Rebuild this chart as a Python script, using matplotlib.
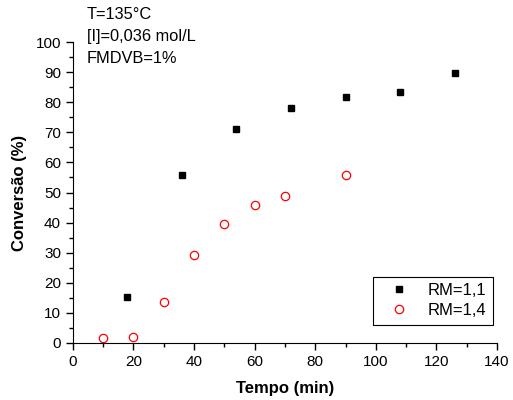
import matplotlib
matplotlib.use("Agg")
from matplotlib import pyplot as plt
from matplotlib.ticker import MultipleLocator

# Dados
t1 = [18, 36, 54, 72, 90, 108, 126]
conv1 = [15.2, 55.7, 71.2, 78.2, 81.6, 83.3, 89.6]
t2 = [10, 20, 30, 40, 50, 60, 70, 90]
conv2 = [1.6, 1.9, 13.6, 29.2, 39.5, 45.9, 48.7, 55.7]

plt.rcParams['font.family'] = ['Liberation Sans', 'DejaVu Sans']
plt.rcParams['font.size'] = 11

fig = plt.figure(figsize=(5.13, 4.0), dpi=100)
ax = fig.add_axes([0.142, 0.1425, 0.827, 0.7525])

ax.plot(t1, conv1, linestyle="none", marker="s", markersize=5, color="black", label="RM=1,1")
ax.plot(t2, conv2, linestyle="none", marker="o", markersize=6, markerfacecolor="none",
        markeredgecolor="red", markeredgewidth=0.9, label="RM=1,4")

ax.set_xlim(0, 140)
ax.set_ylim(0, 100)
ax.xaxis.set_major_locator(MultipleLocator(20))
ax.xaxis.set_minor_locator(MultipleLocator(10))
ax.yaxis.set_major_locator(MultipleLocator(10))
ax.yaxis.set_minor_locator(MultipleLocator(5))
ax.tick_params(which="major", direction="out", length=5, width=1)
ax.tick_params(which="minor", direction="out", length=3, width=1)
ax.spines["top"].set_visible(False)
ax.spines["right"].set_visible(False)

ax.set_xlabel("Tempo (min)", fontweight="bold", fontsize=12, labelpad=9)
ax.set_ylabel("Conversão (%)", fontweight="bold", fontsize=12, labelpad=6)

ax.text(0.033, 1.115, "T=135°C\n[I]=0,036 mol/L\nFMDVB=1%", transform=ax.transAxes,
        va="top", ha="left", fontsize=11.8, linespacing=1.55)

leg = ax.legend(loc="lower right", bbox_to_anchor=(0.99, 0.06), fancybox=False,
                edgecolor="black", framealpha=1, fontsize=12, handlelength=2.4,
                handletextpad=0.5, borderpad=0.4, labelspacing=0.3,
                borderaxespad=0)
leg.get_frame().set_linewidth(0.8)

fig.savefig("out.png", dpi=100)
